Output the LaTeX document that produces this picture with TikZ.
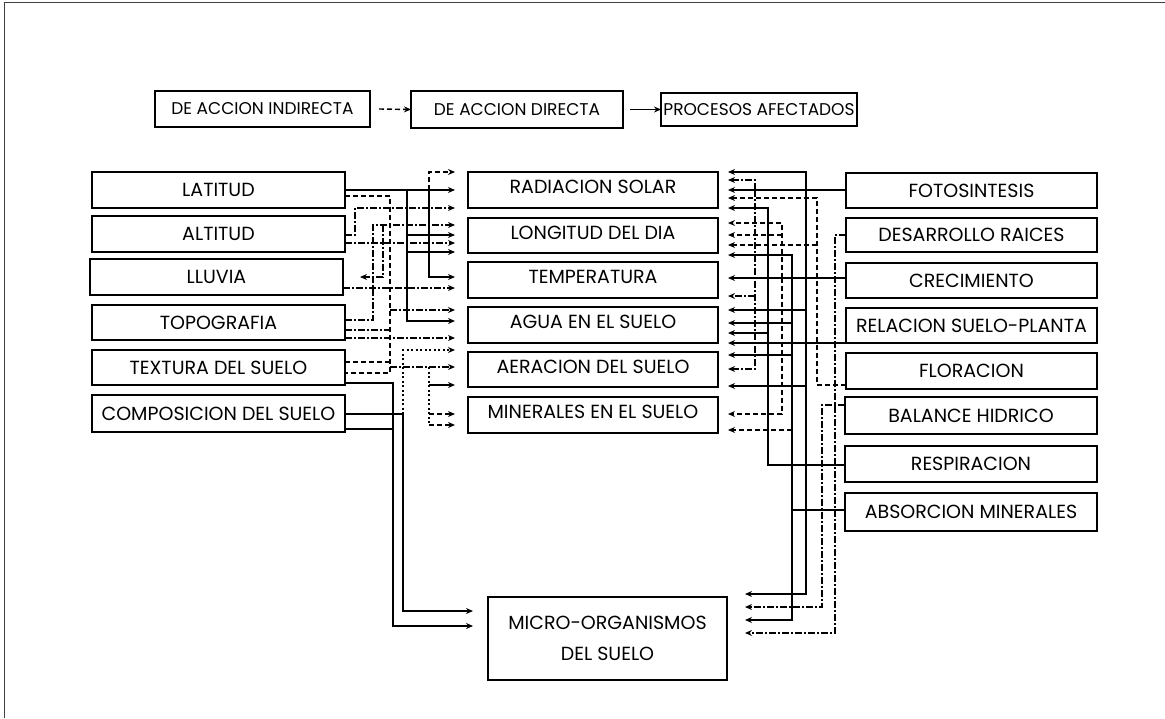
\documentclass[tikz,border=0pt]{standalone}
\usepackage{fontspec}
\setmainfont{Poppins}
\usetikzlibrary{arrows.meta,calc}
\begin{document}
\begin{tikzpicture}[x=1pt,y=-1pt,
  box/.style={draw=black,line width=2pt,inner sep=0pt,outer sep=0pt,anchor=north west,font=\fontsize{19}{21}\selectfont},
  hbox/.style={box,font=\fontsize{17}{19}\selectfont},
  midbox/.style={box,text depth=6pt},
  sl/.style={line width=1.4pt},
  dd/.style={line width=1.4pt,dash pattern=on 7pt off 2pt on 2pt off 2pt},
  ds/.style={line width=1.4pt,dash pattern=on 5pt off 3pt},
  dt/.style={line width=1.2pt,dash pattern=on 2pt off 2.5pt},
  tip/.style={-{Stealth[length=7pt,width=6pt]}}
]
\useasboundingbox (0,0) rectangle (1165,718);
\fill[white] (0,0) rectangle (1165,718);
\draw[line width=1pt,black!75] (4,718) -- (4,2) -- (1165,2);

% header
\node[hbox,minimum width=215pt,minimum height=36pt] (h1) at (155,91) {DE ACCION INDIRECTA};
\node[hbox,minimum width=212pt,minimum height=37pt] (h2) at (411,91) {DE ACCION DIRECTA};
\node[hbox,minimum width=196pt,minimum height=33pt] (h3) at (661,93) {PROCESOS AFECTADOS};
\draw[ds,tip] ([xshift=9pt]h1.east) -- (h2.west);
\draw[sl,tip] ([xshift=7pt]h2.east) -- (h3.west);

% left column
\node[box,minimum width=253pt,minimum height=36pt] (lat) at (92,172) {LATITUD};
\node[box,minimum width=253pt,minimum height=36pt] (alt) at (92,216) {ALTITUD};
\node[box,minimum width=253pt,minimum height=36pt] (llu) at (90,259) {LLUVIA};
\node[box,minimum width=253pt,minimum height=35pt] (topo) at (92,305) {TOPOGRAFIA};
\node[box,minimum width=253pt,minimum height=35pt] (tex) at (92,350) {TEXTURA DEL SUELO};
\node[box,minimum width=253pt,minimum height=37pt] (comp) at (92,395) {COMPOSICION DEL SUELO};

% middle column
\node[midbox,minimum width=250pt,minimum height=36pt] (rad) at (468,172) {RADIACION SOLAR};
\node[midbox,minimum width=250pt,minimum height=35pt] (lon) at (468,218) {LONGITUD DEL DIA};
\node[midbox,minimum width=250pt,minimum height=36pt] (tem) at (468,262) {TEMPERATURA};
\node[midbox,minimum width=250pt,minimum height=36pt] (agu) at (468,307) {AGUA EN EL SUELO};
\node[midbox,minimum width=250pt,minimum height=35pt] (aer) at (468,352) {AERACION DEL SUELO};
\node[midbox,minimum width=250pt,minimum height=36pt] (min) at (468,397) {MINERALES EN EL SUELO};
\node[box,minimum width=239pt,minimum height=83pt,align=center] (mic) at (488,597) {MICRO-ORGANISMOS\\[10pt]DEL SUELO};

% right column
\node[box,minimum width=251pt,minimum height=35pt] (fot) at (846,173) {FOTOSINTESIS};
\node[box,minimum width=251pt,minimum height=34pt] (des) at (846,218) {DESARROLLO RAICES};
\node[box,minimum width=251pt,minimum height=35pt] (cre) at (846,263) {CRECIMIENTO};
\node[box,minimum width=251pt,minimum height=35pt] (rel) at (846,308) {RELACION SUELO-PLANTA};
\node[box,minimum width=251pt,minimum height=36pt] (flo) at (846,353) {FLORACION};
\node[box,minimum width=252pt,minimum height=37pt] (bal) at (845,397) {BALANCE HIDRICO};
\node[box,minimum width=252pt,minimum height=36pt] (res) at (845,446) {RESPIRACION};
\node[box,minimum width=252pt,minimum height=38pt] (abs) at (845,493) {ABSORCION MINERALES};

% arrow-tip columns
\coordinate (LT) at ([xshift=-13pt]rad.west);
\coordinate (RT) at ([xshift=10pt]rad.east);
\coordinate (ML) at ([xshift=-15pt]mic.west);
\coordinate (MR) at ([xshift=18pt]mic.east);

% ---- left network ----
\draw[sl,tip] (lat.east |- 0,190) -- (LT |- 0,190);
\draw[ds,tip] (429,190) -- (429,172) -- (LT |- 0,172);
\draw[sl,tip] (429,190) -- (429,277) -- (LT |- 0,277);
\draw[sl,tip] (407,190) -- (407,321) -- (LT |- 0,321);
\draw[sl,tip] (407,235) -- (LT |- 0,235);
\draw[sl,tip] (407,252) -- (LT |- 0,252);
\draw[dd,tip] (alt.east |- 0,235) -- (355,235) -- (355,208) -- (LT |- 0,208);
\draw[dd,tip] (alt.east |- 0,243) -- (LT |- 0,243);
\draw[dd,tip] (llu.east |- 0,288) -- (LT |- 0,288);
\draw[dd,tip] (topo.east |- 0,320) -- (373,320) -- (373,225) -- (LT |- 0,225);
\draw[dd,tip] (383,225) -- (383,277) -- ([xshift=17pt]llu.east |- 0,277);
\draw[ds] (lat.east |- 0,196) -- (390,196) -- (390,373) -- (tex.east |- 0,373);
\draw[dd,tip] (390,310) -- (LT |- 0,310);
\draw[dd,tip] (390,367) -- (LT |- 0,367);
\draw[dd] (topo.east |- 0,330) -- (390,330);
\draw[dd,tip] (topo.east |- 0,338) -- (LT |- 0,338);
\draw[ds] (tex.east |- 0,362) -- (390,362);
\draw[sl,tip] (tex.east |- 0,383) -- (393,383) -- (393,626) -- (ML |- 0,626);
\draw[sl] (comp.east |- 0,429) -- (393,429);
\draw[sl,tip] (comp.east |- 0,414) -- (403,414) -- (403,611) -- (ML |- 0,611);
\draw[dt,tip] (403,414) -- (403,350) -- (LT |- 0,350);
\draw[dt] (429,367) -- (429,425);
\draw[sl,tip] (429,385) -- (LT |- 0,385);
\draw[ds,tip] (429,414) -- (LT |- 0,414);
\draw[ds,tip] (429,425) -- (LT |- 0,425);

% ---- right network ----
\draw[sl,tip] (fot.west |- 0,190) -- (RT |- 0,190);
\draw[sl,tip] (806,190) -- (806,172) -- (RT |- 0,172);
\draw[sl,tip] (806,190) -- (806,594) -- (MR |- 0,594);
\draw[sl,tip] (806,310) -- (RT |- 0,310);
\draw[sl,tip] (806,386) -- (RT |- 0,386);
\draw[dd,tip] (755,190) -- (755,180) -- (RT |- 0,180);
\draw[dd,tip] (755,190) -- (755,369) -- (RT |- 0,369);
\draw[dd,tip] (755,296) -- (RT |- 0,296);
\draw[sl,tip] (res.west |- 0,465) -- (768,465) -- (768,208) -- (RT |- 0,208);
\draw[sl,tip] (768,333) -- (RT |- 0,333);
\draw[ds,tip] (782,278) -- (782,223) -- (RT |- 0,223);
\draw[ds,tip] (782,278) -- (782,414) -- (RT |- 0,414);
\draw[ds,tip] (782,235) -- (RT |- 0,235);
\draw[sl,tip] (cre.west |- 0,278) -- (RT |- 0,278);
\draw[sl,tip] (abs.west |- 0,510) -- (792,510) -- (792,255) -- (RT |- 0,255);
\draw[sl,tip] (792,510) -- (792,620) -- (MR |- 0,620);
\draw[sl,tip] (792,323) -- (RT |- 0,323);
\draw[sl,tip] (792,355) -- (RT |- 0,355);
\draw[ds,tip] (792,430) -- (RT |- 0,430);
\draw[ds,tip] (flo.west |- 0,385) -- (817,385) -- (817,198) -- (RT |- 0,198);
\draw[ds,tip] (817,245) -- (RT |- 0,245);
\draw[dd,tip] (bal.west |- 0,405) -- (822,405) -- (822,607) -- (MR |- 0,607);
\draw[dd,tip] (des.west |- 0,235) -- (835,235) -- (835,633) -- (MR |- 0,633);
\draw[sl,tip] (rel.west |- 0,343) -- (RT |- 0,343);
\end{tikzpicture}
\end{document}
